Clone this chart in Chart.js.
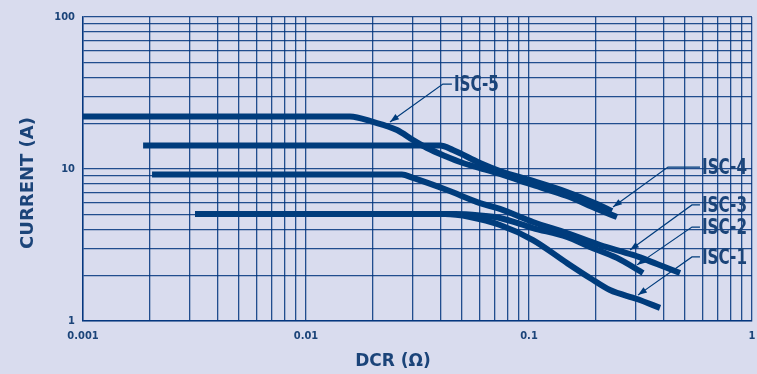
<!DOCTYPE html>
<html>
<head>
<meta charset="utf-8">
<script src="https://cdn.jsdelivr.net/npm/chart.js@4.4.1/dist/chart.umd.min.js"></script>
<style>
  html, body { margin: 0; padding: 0; background: #d9dcee; }
  canvas { display: block; }
</style>
</head>
<body>
<canvas id="dcrChart" width="757" height="374"></canvas>
<script>
// tick values (log grid, 1..9 per decade)
const xTicks = [0.001, 0.002, 0.003, 0.004, 0.005, 0.006, 0.007, 0.008, 0.009,
  0.01, 0.02, 0.03, 0.04, 0.05, 0.06, 0.07, 0.08, 0.09,
  0.1, 0.2, 0.3, 0.4, 0.5, 0.6, 0.7, 0.8, 0.9, 1];
const yTicks = [1, 2, 3, 4, 5, 6, 7, 8, 9, 10, 20, 30, 40, 50, 60, 70, 80, 90, 100];
const xLabels = [0.001, 0.01, 0.1, 1];
const yLabels = [1, 10, 100];

// curves: DCR (ohm) vs current (A)
const isc5X = [0.001, 0.01575, 0.01997, 0.0256, 0.0302, 0.0349, 0.042, 0.0506, 0.0603, 0.0741, 0.1042, 0.148, 0.2018, 0.248];
const isc5Y = [22.15, 22.15, 20.4, 18.06, 15.51, 13.75, 12.18, 10.95, 10.15, 9.27, 7.85, 6.64, 5.46, 4.83];
const isc4X = [0.00186, 0.0399, 0.0456, 0.0603, 0.0741, 0.1042, 0.148, 0.2018, 0.2356];
const isc4Y = [14.28, 14.28, 13.34, 10.95, 9.70, 8.34, 7.06, 5.88, 5.29];
const isc3X = [0.00204, 0.0269, 0.0302, 0.0429, 0.0603, 0.0741, 0.1042, 0.148, 0.2083, 0.2927, 0.375, 0.4755];
const isc3Y = [9.2, 9.2, 8.73, 7.27, 5.97, 5.46, 4.48, 3.79, 3.16, 2.72, 2.37, 2.07];
const isc2X = [0.00318, 0.0466, 0.0603, 0.0741, 0.1042, 0.148, 0.1877, 0.248, 0.3245];
const isc2Y = [5.05, 5.05, 4.94, 4.76, 4.09, 3.57, 3.07, 2.60, 2.07];
const isc1X = [0.00318, 0.042, 0.0544, 0.0741, 0.1042, 0.148, 0.1877, 0.2307, 0.305, 0.3868];
const isc1Y = [5.05, 5.05, 4.83, 4.28, 3.41, 2.41, 1.92, 1.60, 1.395, 1.22];

// callouts: arrow tip and elbow in data units, then a short horizontal run
const callouts = [
  { text: 'ISC-5', tip: [0.0238, 20.4], elbow: [0.0411, 36.2], run: 9 },
  { text: 'ISC-4', tip: [0.238, 5.62], elbow: [0.42, 10.3], run: 32 },
  { text: 'ISC-3', tip: [0.2837, 2.93], elbow: [0.538, 5.8], run: 8 },
  { text: 'ISC-2', tip: [0.305, 2.34], elbow: [0.538, 4.15], run: 8 },
  { text: 'ISC-1', tip: [0.308, 1.48], elbow: [0.538, 2.64], run: 8 }
];

const ink = '#003c7c';
const textInk = '#1b4479';
const gridInk = 'rgba(0, 52, 125, 0.85)';

function pts(xs, ys) {
  return xs.map((x, i) => ({ x: x, y: ys[i] }));
}

function curve(label, xs, ys) {
  return {
    label: label,
    data: pts(xs, ys),
    showLine: true,
    borderColor: ink,
    backgroundColor: ink,
    borderWidth: 6,
    borderCapStyle: 'butt',
    pointRadius: 0,
    cubicInterpolationMode: 'monotone'
  };
}

const calloutPlugin = {
  id: 'callouts',
  afterDraw(chart) {
    const ctx = chart.ctx;
    const xs = chart.scales.x;
    const ys = chart.scales.y;
    ctx.save();
    ctx.strokeStyle = ink;
    ctx.fillStyle = ink;
    ctx.lineWidth = 1.2;
    callouts.forEach(c => {
      const tx = xs.getPixelForValue(c.tip[0]);
      const ty = ys.getPixelForValue(c.tip[1]);
      const ex = xs.getPixelForValue(c.elbow[0]);
      const ey = ys.getPixelForValue(c.elbow[1]);
      ctx.beginPath();
      ctx.moveTo(tx, ty);
      ctx.lineTo(ex, ey);
      ctx.lineTo(ex + c.run, ey);
      ctx.stroke();
      // arrow head
      const a = Math.atan2(ty - ey, tx - ex);
      const len = 9, half = 3.2;
      ctx.beginPath();
      ctx.moveTo(tx, ty);
      ctx.lineTo(tx - len * Math.cos(a) + half * Math.sin(a), ty - len * Math.sin(a) - half * Math.cos(a));
      ctx.lineTo(tx - len * Math.cos(a) - half * Math.sin(a), ty - len * Math.sin(a) + half * Math.cos(a));
      ctx.closePath();
      ctx.fill();
      ctx.fillStyle = textInk;
      ctx.font = 'bold 22px "DejaVu Sans Condensed", sans-serif';
      ctx.textAlign = 'left';
      ctx.textBaseline = 'middle';
      ctx.fillText(c.text, ex + c.run + 2, ey + 1, 45);
      ctx.fillStyle = ink;
    });

    // axis titles
    ctx.fillStyle = textInk;
    ctx.font = 'bold 17px "DejaVu Sans", sans-serif';
    ctx.textAlign = 'center';
    ctx.textBaseline = 'middle';
    ctx.fillText('DCR (\u03A9)', 393, 362);
    ctx.translate(28, 183);
    ctx.rotate(-Math.PI / 2);
    ctx.font = 'bold 18px "DejaVu Sans", sans-serif';
    ctx.fillText('CURRENT (A)', 0, 0);
    ctx.restore();
  }
};

function fixTicks(values) {
  return scale => {
    scale.ticks = values.map(v => ({ value: v }));
  };
}

const tickFont = { family: '"DejaVu Sans Condensed", sans-serif', size: 11, weight: 'bold' };

new Chart(document.getElementById('dcrChart'), {
  type: 'scatter',
  data: {
    datasets: [
      curve('ISC-5', isc5X, isc5Y),
      curve('ISC-4', isc4X, isc4Y),
      curve('ISC-3', isc3X, isc3Y),
      curve('ISC-2', isc2X, isc2Y),
      curve('ISC-1', isc1X, isc1Y)
    ]
  },
  options: {
    responsive: false,
    animation: false,
    layout: { padding: { top: 17, right: 5, left: 0, bottom: 0 } },
    plugins: {
      legend: { display: false },
      tooltip: { enabled: false }
    },
    scales: {
      x: {
        type: 'logarithmic',
        min: 0.001,
        max: 1,
        afterBuildTicks: fixTicks(xTicks),
        afterFit: scale => {
          scale.height = 53;
          scale.paddingLeft = 0;
          scale.paddingRight = 0;
        },
        grid: { color: gridInk, lineWidth: 1.3, drawTicks: false },
        border: { color: gridInk, width: 1.5 },
        ticks: {
          autoSkip: false,
          maxRotation: 0,
          padding: 9,
          color: textInk,
          font: tickFont,
          callback: v => (xLabels.includes(v) ? String(v) : '')
        }
      },
      y: {
        type: 'logarithmic',
        min: 1,
        max: 100,
        afterBuildTicks: fixTicks(yTicks),
        afterFit: scale => {
          scale.width = 83;
          scale.paddingTop = 0;
          scale.paddingBottom = 0;
        },
        grid: { color: gridInk, lineWidth: 1.3, drawTicks: false },
        border: { color: gridInk, width: 1.5 },
        ticks: {
          autoSkip: false,
          padding: 8,
          color: textInk,
          font: tickFont,
          callback: v => (yLabels.includes(v) ? String(v) : '')
        }
      }
    }
  },
  plugins: [calloutPlugin]
});
</script>
</body>
</html>
